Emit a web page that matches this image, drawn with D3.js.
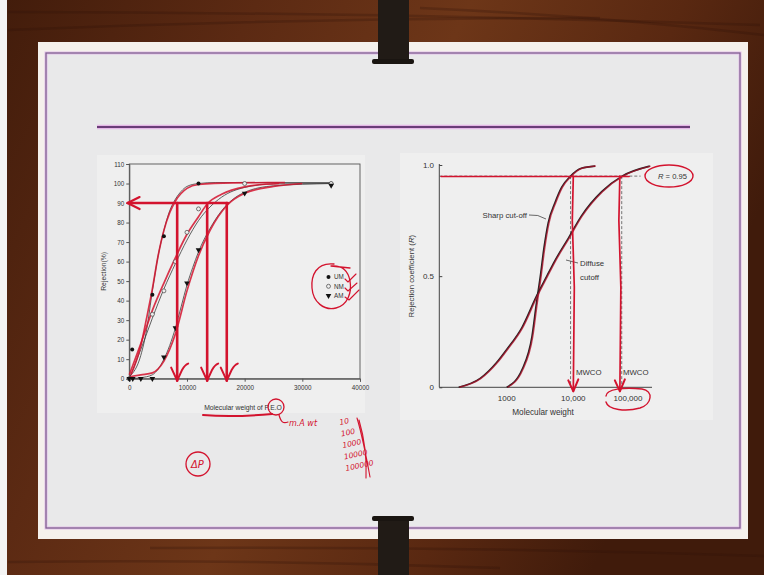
<!DOCTYPE html>
<html>
<head>
<meta charset="utf-8">
<script src="https://cdn.jsdelivr.net/npm/d3@7"></script>
<style>
  html, body { margin: 0; padding: 0; background: #4b2210; }
  svg { display: block; font-family: "Liberation Sans", Arial, sans-serif; }
</style>
</head>
<body>
<svg id="slide" width="764" height="575"></svg>
<script>
// ---- left chart: rejection (%) vs molecular weight of P.E.O
const umPoints = [[0, 0], [500, 15], [4000, 43], [6000, 73], [12000, 100], [35000, 100]];
const nmPoints = [[0, 0], [4000, 33], [6000, 45], [8000, 60], [10000, 75], [12000, 87], [20000, 100], [35000, 100]];
const amPoints = [[0, 0], [600, 0], [2000, 0], [4000, 0], [6000, 11], [8000, 26], [10000, 49], [12000, 66], [20000, 95], [35000, 99]];

// fitted curves (thin black)
const umFit = [[0, 1], [2000, 12], [3000, 25], [4000, 45], [5000, 63], [6000, 76], [7000, 86], [8000, 92], [9000, 96], [10000, 98.5], [12000, 100], [15000, 100.5], [35000, 100.5]];
const nmFit = [[0, 0], [2000, 15], [4000, 31], [6000, 46], [8000, 59], [10000, 71], [12000, 81], [14000, 88], [16000, 93], [20000, 98], [25000, 99.8], [35000, 100]];
const amFit = [[0, 0], [2000, 0.5], [4000, 2], [5000, 5], [6000, 10], [7000, 17], [8000, 26], [9000, 37], [10000, 48], [11000, 57], [12000, 65], [14000, 77], [16000, 86], [18000, 92], [20000, 95.5], [25000, 98.8], [35000, 100]];

// hand traced curves (red) over the fits
const umTrace = [[300, 2], [2000, 17], [3000, 31], [4000, 46], [5000, 63], [6000, 76], [7000, 85], [8000, 91], [10000, 97.5], [12000, 99.5], [18000, 100.3], [27000, 100.5]];
const nmTrace = [[0, 2], [2000, 18], [4000, 35], [6000, 49], [8000, 62], [10000, 74], [12000, 83], [13500, 89.5], [16000, 94.5], [20000, 98.3], [26000, 100]];
const amTrace = [[0, 1], [2000, 2], [4000, 3], [6000, 9], [8000, 23], [10000, 45], [12000, 63], [14000, 76], [17000, 89], [20000, 95], [25000, 98.5], [30000, 100]];

const leftXTicks = [0, 10000, 20000, 30000, 40000];
const leftYTicks = [0, 10, 20, 30, 40, 50, 60, 70, 80, 90, 100, 110];
const legendNames = ["UM", "NM", "AM"];
const cutoffLevel = 90;
const cutoffMW = [8300, 13500, 16900];

// ---- right chart: rejection coefficient R vs molecular weight (log)
const sharpMW = [1000, 1700, 2400, 2800, 3200, 3600, 4200, 5300, 6700, 9100, 14000, 25000];
const sharpR = [0, 0.08, 0.23, 0.38, 0.5, 0.62, 0.74, 0.83, 0.9, 0.95, 0.985, 0.995];
const diffuseMW = [190, 400, 700, 1000, 1700, 2800, 4000, 5300, 8400, 14000, 33000, 78000, 250000];
const diffuseR = [0, 0.04, 0.11, 0.17, 0.27, 0.41, 0.5, 0.57, 0.67, 0.77, 0.88, 0.95, 0.995];
const rightXTicks = [1000, 10000, 100000];
const rightXLabels = ["1000", "10,000", "100,000"];
const rightYTicks = [0, 0.5, 1.0];
const rLevel = 0.95;
const mwcoMW = [9100, 76800];
const arrowMW = [10000, 71000];

const RED = "#d3132e";
const svg = d3.select("#slide");

// ---------- background: wood, slide, clips
const defs = svg.append("defs");
const wood = defs.append("linearGradient").attr("id", "wood")
  .attr("x1", 0).attr("y1", 0).attr("x2", 1).attr("y2", 0.35);
[["0%", "#421c0b"], ["30%", "#5c2a13"], ["55%", "#6d3618"], ["80%", "#592811"], ["100%", "#401b0b"]]
  .forEach(s => wood.append("stop").attr("offset", s[0]).attr("stop-color", s[1]));
svg.append("rect").attr("width", 764).attr("height", 575).attr("fill", "url(#wood)");

const streaks = [[8, 12, 760, 25], [8, 30, 600, 18], [150, 548, 764, 556], [8, 562, 500, 568], [420, 8, 764, 35]];
svg.append("g").selectAll("path").data(streaks).join("path")
  .attr("d", d => `M${d[0]},${d[1]} Q${(d[0] + d[2]) / 2},${(d[1] + d[3]) / 2 - 6} ${d[2]},${d[3]}`)
  .attr("fill", "none").attr("stroke", "#2c1006").attr("stroke-opacity", 0.25).attr("stroke-width", 2.5);

svg.append("rect").attr("x", 0).attr("y", 0).attr("width", 7).attr("height", 575).attr("fill", "#f4f4f4");

svg.append("rect").attr("x", 38).attr("y", 42).attr("width", 710).attr("height", 497).attr("fill", "#f5f1ec");
svg.append("rect").attr("x", 46).attr("y", 53).attr("width", 694).attr("height", 475)
  .attr("fill", "#e9e9ea").attr("stroke", "#e2bfe8").attr("stroke-width", 3);
svg.append("rect").attr("x", 46).attr("y", 53).attr("width", 694).attr("height", 475)
  .attr("fill", "none").attr("stroke", "#7a5d8a").attr("stroke-width", 1.2);

svg.append("line").attr("x1", 97).attr("x2", 690).attr("y1", 127).attr("y2", 127)
  .attr("stroke", "#e4b6e6").attr("stroke-width", 4.5);
svg.append("line").attr("x1", 97).attr("x2", 690).attr("y1", 127).attr("y2", 127)
  .attr("stroke", "#6a3d78").attr("stroke-width", 2);

function clip(y0, y1, capY) {
  const g = svg.append("g");
  g.append("rect").attr("x", 378).attr("y", y0).attr("width", 31).attr("height", y1 - y0).attr("fill", "#211b16");
  g.append("rect").attr("x", 372).attr("y", capY).attr("width", 42).attr("height", 5).attr("rx", 2).attr("fill", "#1a1511");
}
clip(0, 64, 59);
clip(516, 575, 516);

// chart panels
svg.append("rect").attr("x", 97).attr("y", 155).attr("width", 268).attr("height", 258).attr("fill", "#efefef");
svg.append("rect").attr("x", 400).attr("y", 153).attr("width", 313).attr("height", 267).attr("fill", "#efefef");

// ---------- left chart
const xL = d3.scaleLinear().domain([0, 40000]).range([129.3, 360]);
const yL = d3.scaleLinear().domain([0, 110]).range([378.7, 164]);
const left = svg.append("g").attr("font-size", 6.3).attr("fill", "#333");

left.append("rect").attr("x", xL(0)).attr("y", yL(110)).attr("width", xL(40000) - xL(0)).attr("height", yL(0) - yL(110))
  .attr("fill", "none").attr("stroke", "#555").attr("stroke-width", 0.9);

const axL = left.append("g").attr("transform", `translate(${xL(0)},0)`)
  .call(d3.axisLeft(yL).tickValues(leftYTicks).tickSize(3).tickPadding(2));
const axB = left.append("g").attr("transform", `translate(0,${yL(0)})`)
  .call(d3.axisBottom(xL).tickValues(leftXTicks).tickFormat(d3.format("d")).tickSize(3).tickPadding(4));
[axL, axB].forEach(a => {
  a.select(".domain").attr("stroke", "#555");
  a.selectAll(".tick line").attr("stroke", "#555");
  a.selectAll("text").attr("fill", "#333").attr("font-size", 6.3).attr("font-family", "Liberation Sans, Arial, sans-serif");
});

left.append("text").attr("transform", `translate(106,${(yL(0) + yL(110)) / 2}) rotate(-90)`)
  .attr("text-anchor", "middle").attr("font-size", 6.8).attr("fill", "#333").text("Rejection(%)");
left.append("text").attr("x", 243).attr("y", 410).attr("text-anchor", "middle")
  .attr("font-size", 6.8).attr("fill", "#333").text("Molecular weight of P.E.O");

const lineL = d3.line().x(d => xL(d[0])).y(d => yL(d[1])).curve(d3.curveMonotoneX);
[umFit, nmFit, amFit].forEach(f => left.append("path").attr("d", lineL(f))
  .attr("fill", "none").attr("stroke", "#3a3a3a").attr("stroke-width", 0.8));
[umTrace, nmTrace, amTrace].forEach(f => left.append("path").attr("d", lineL(f))
  .attr("fill", "none").attr("stroke", RED).attr("stroke-opacity", 0.85).attr("stroke-width", 1.7));

const tri = d3.symbol().type(d3.symbolTriangle).size(14);
function marker(g, kind, x, y) {
  if (kind === 0) g.append("circle").attr("cx", x).attr("cy", y).attr("r", 2).attr("fill", "#111");
  else if (kind === 1) g.append("circle").attr("cx", x).attr("cy", y).attr("r", 2).attr("fill", "#eee").attr("stroke", "#444").attr("stroke-width", 0.7);
  else g.append("path").attr("d", tri()).attr("transform", `translate(${x},${y}) rotate(180)`).attr("fill", "#111");
}
[umPoints, nmPoints, amPoints].forEach((pts, k) => pts.forEach(p => marker(left, k, xL(p[0]), yL(p[1]))));

// legend
legendNames.forEach((n, i) => {
  const y = 277 + i * 9.3;
  marker(left, i, 328.5, y);
  left.append("text").attr("x", 334).attr("y", y + 2.3).attr("font-size", 6.3).attr("fill", "#333").text(n);
});

// red cut-off annotation on left chart
const ann = svg.append("g").attr("fill", "none").attr("stroke", RED).attr("stroke-linecap", "round").attr("stroke-linejoin", "round");
ann.append("line").attr("x1", xL(-300)).attr("x2", xL(17100)).attr("y1", yL(cutoffLevel)).attr("y2", yL(cutoffLevel)).attr("stroke-width", 2.4);
ann.append("path").attr("d", `M${xL(-300) + 12},${yL(cutoffLevel) - 6} L${xL(-300)},${yL(cutoffLevel)} L${xL(-300) + 12},${yL(cutoffLevel) + 6}`).attr("stroke-width", 2.2);
cutoffMW.forEach(mw => {
  const x = xL(mw), yb = yL(-1);
  ann.append("line").attr("x1", x).attr("x2", x).attr("y1", yL(cutoffLevel)).attr("y2", yb).attr("stroke-width", 2.6);
  ann.append("path").attr("d", `M${x - 6},${yb - 13} L${x},${yb} L${x + 5},${yb - 11} Q${x + 8},${yb - 16} ${x + 11},${yb - 17}`).attr("stroke-width", 2);
});

// legend circle + ticks
ann.append("path").attr("d", "M334,264 C316,262 311,276 312,288 C313,302 324,311 336,308 C348,305 352,292 350,281 C348,270 342,265 331,266 L350,268")
  .attr("stroke-width", 1.3);
ann.append("path").attr("d", "M345,279 L348,282 L356,274 M345,288 L348,291 L357,283 M345,297 L349,300 L359,290").attr("stroke-width", 1.1);

// ---------- right chart
const xR = d3.scaleLog().domain([1000, 10000, 100000]).range([506.7, 573.3, 628]);
const yR = d3.scaleLinear().domain([0, 1]).range([387.3, 165]);
const right = svg.append("g");

right.append("line").attr("x1", 439.3).attr("x2", 439.3).attr("y1", yR(1) - 1).attr("y2", yR(0)).attr("stroke", "#444").attr("stroke-width", 1);
right.append("line").attr("x1", 439.3).attr("x2", 652).attr("y1", yR(0)).attr("y2", yR(0)).attr("stroke", "#444").attr("stroke-width", 1);
const axR = right.append("g").attr("transform", "translate(439.3,0)")
  .call(d3.axisRight(yR).tickValues(rightYTicks).tickSize(3).tickFormat(() => ""));
axR.select(".domain").remove();
axR.selectAll(".tick line").attr("stroke", "#444");
right.selectAll(".ylab").data(rightYTicks).join("text").attr("class", "ylab")
  .attr("x", 434).attr("y", d => yR(d) + 3).attr("text-anchor", "end").attr("font-size", 8).attr("fill", "#333")
  .text(d => d === 0 ? "0" : d.toFixed(1));
right.selectAll(".xlab").data(rightXTicks).join("text").attr("class", "xlab")
  .attr("x", d => xR(d)).attr("y", 401).attr("text-anchor", "middle").attr("font-size", 8).attr("fill", "#333")
  .text((d, i) => rightXLabels[i]);
right.append("text").attr("x", 543).attr("y", 415).attr("text-anchor", "middle").attr("font-size", 8.2).attr("fill", "#333").text("Molecular weight");
right.append("text").attr("transform", `translate(414,${yR(0.5)}) rotate(-90)`).attr("text-anchor", "middle")
  .attr("font-size", 7.8).attr("fill", "#333")
  .html('Rejection coefficient (<tspan font-style="italic">R</tspan>)');

// dashed guides
const dash = right.append("g").attr("stroke", "#555").attr("stroke-width", 0.8).attr("stroke-dasharray", "3,2").attr("fill", "none");
dash.append("line").attr("x1", 439.3).attr("x2", xR(170000)).attr("y1", yR(rLevel)).attr("y2", yR(rLevel));
mwcoMW.forEach(m => dash.append("line").attr("x1", xR(m)).attr("x2", xR(m)).attr("y1", yR(rLevel)).attr("y2", yR(0)));

const lineR = d3.line().x(d => xR(d[0])).y(d => yR(d[1])).curve(d3.curveMonotoneX);
const sharp = sharpMW.map((m, i) => [m, sharpR[i]]);
const diffuse = diffuseMW.map((m, i) => [m, diffuseR[i]]);
[sharp, diffuse].forEach(c => {
  right.append("path").attr("d", lineR(c)).attr("fill", "none").attr("stroke", "#222").attr("stroke-width", 1.6);
  right.append("path").attr("d", lineR(c)).attr("fill", "none").attr("stroke", "#b0122b").attr("stroke-opacity", 0.75)
    .attr("stroke-width", 1.5).attr("transform", "translate(0.8,0)");
});

right.append("text").attr("x", 527).attr("y", 218).attr("text-anchor", "end").attr("font-size", 7.8).attr("fill", "#333").text("Sharp cut-off");
right.append("path").attr("d", "M529,215 Q538,214 546,219").attr("fill", "none").attr("stroke", "#444").attr("stroke-width", 0.8);
right.append("text").attr("x", 580).attr("y", 266).attr("font-size", 7.8).attr("fill", "#333").text("Diffuse");
right.append("text").attr("x", 580).attr("y", 280).attr("font-size", 7.8).attr("fill", "#333").text("cutoff");
right.append("path").attr("d", "M578,263 L566,260").attr("fill", "none").attr("stroke", "#444").attr("stroke-width", 0.8);
right.append("text").attr("x", 576).attr("y", 375).attr("font-size", 7.8).attr("fill", "#333").text("MWCO");
right.append("text").attr("x", 623).attr("y", 375).attr("font-size", 7.8).attr("fill", "#333").text("MWCO");
right.append("text").attr("x", 658).attr("y", 179).attr("font-size", 7.6).attr("fill", "#333")
  .html('<tspan font-style="italic">R</tspan> = 0.95');

// red annotation on right chart
const annR = svg.append("g").attr("fill", "none").attr("stroke", RED).attr("stroke-linecap", "round").attr("stroke-linejoin", "round");
annR.append("line").attr("x1", 441).attr("x2", xR(105000)).attr("y1", yR(rLevel) + 0.5).attr("y2", yR(rLevel) + 0.5).attr("stroke-width", 1.5);
arrowMW.forEach(m => {
  const x = xR(m), yb = yR(0) + 4;
  annR.append("path").attr("d", `M${x},${yR(rLevel)} L${x - 1},${yR(0.75)} L${x + 1},${yR(0.45)} L${x},${yb}`).attr("stroke-width", 1.7);
  annR.append("path").attr("d", `M${x - 5},${yb - 11} L${x},${yb} L${x + 5},${yb - 12}`).attr("stroke-width", 2);
});
annR.append("ellipse").attr("cx", 669).attr("cy", 176).attr("rx", 24).attr("ry", 11).attr("stroke-width", 1.4);
annR.append("path").attr("d", "M606,396 C606,389 624,387 642,389 C654,391 652,404 640,408 C626,412 608,410 606,402").attr("stroke-width", 1.4);

// ---------- handwriting below left chart
const hw = svg.append("g").attr("fill", "none").attr("stroke", RED).attr("stroke-linecap", "round").attr("stroke-linejoin", "round");
hw.append("path").attr("d", "M203,415 C225,417 250,416 272,414").attr("stroke-width", 2);
hw.append("circle").attr("cx", 276).attr("cy", 407).attr("r", 8).attr("stroke-width", 1.3);
hw.append("path").attr("d", "M279,415 C281,422 283,424 288,422").attr("stroke-width", 1.2);
hw.append("circle").attr("cx", 198).attr("cy", 464).attr("r", 12).attr("stroke-width", 1.3);
hw.append("path").attr("d", "M357,418 C362,435 366,455 370,477 M359,420 C364,437 367,457 366,478").attr("stroke-width", 1.1);

const notes = svg.append("g").attr("fill", RED).attr("font-family", "DejaVu Sans, sans-serif").attr("font-style", "italic");
notes.append("text").attr("x", 289).attr("y", 426).attr("font-size", 8).text("m.A wt");
const powers = ["10", "100", "1000", "10000", "100000"];
powers.forEach((p, i) => {
  notes.append("text").attr("transform", `translate(${340 + i * 1.5},${425 + i * 11.5}) rotate(-12)`)
    .attr("font-size", 7.5).text(p);
});
notes.append("text").attr("x", 191).attr("y", 468).attr("font-size", 10).text("ΔP");
</script>
</body>
</html>
